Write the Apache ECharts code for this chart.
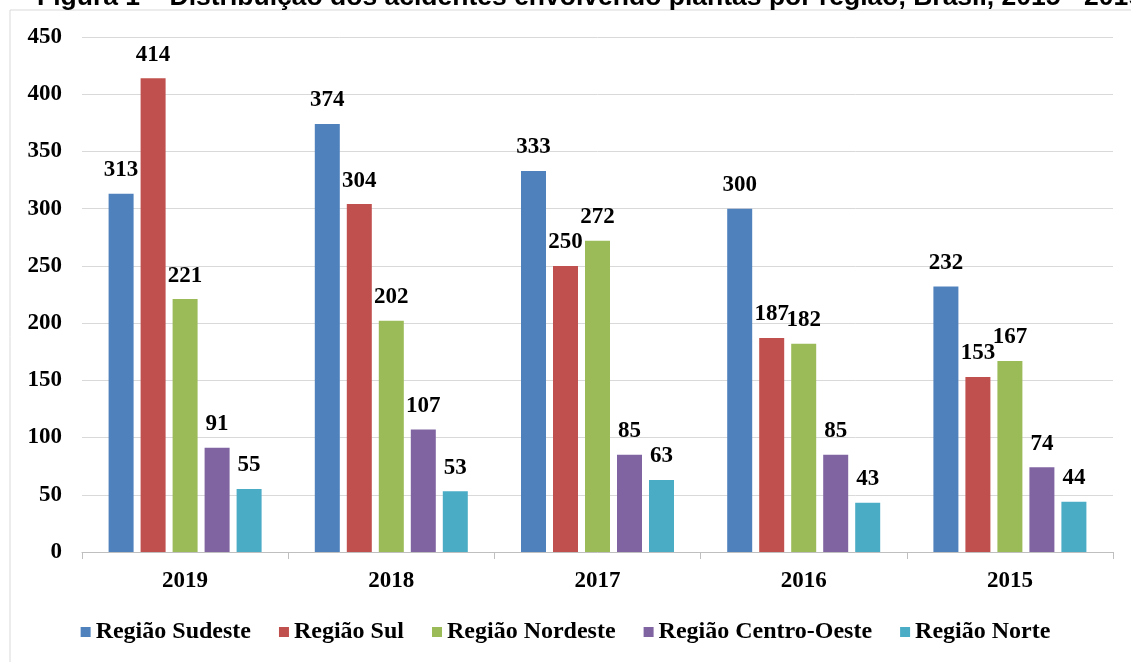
<!DOCTYPE html>
<html>
<head>
    <meta charset="utf-8">
    <title>Acidentes por região</title>
    <script src="https://cdn.jsdelivr.net/npm/echarts@6/dist/echarts.min.js"></script>
    <style>
        body { margin: 0; background: #fff; }
    </style>
</head>
<body>
    <div id="main" style="width: 1131px;height:662px;"></div>
    <script type="text/javascript">
        var years = ['2019', '2018', '2017', '2016', '2015'];
        var sudeste = [313, 374, 333, 300, 232];
        var sul = [414, 304, 250, 187, 153];
        var nordeste = [221, 202, 272, 182, 167];
        var centroOeste = [91, 107, 85, 85, 74];
        var norte = [55, 53, 63, 43, 44];

        var names = ['Região Sudeste', 'Região Sul', 'Região Nordeste', 'Região Centro-Oeste', 'Região Norte'];
        var colors = ['#4F81BD', '#C0504D', '#9BBB59', '#8064A2', '#4BACC6'];
        var allData = [sudeste, sul, nordeste, centroOeste, norte];

        var serif = 'Liberation Serif';

        var myChart = echarts.init(document.getElementById('main'));

        var series = allData.map(function (d, i) {
            return {
                name: names[i],
                type: 'bar',
                data: d,
                barWidth: 25,
                barGap: '28%',
                itemStyle: { color: colors[i] },
                label: {
                    show: true,
                    position: 'top',
                    distance: 12,
                    color: '#000',
                    fontFamily: serif,
                    fontWeight: 'bold',
                    fontSize: 23
                }
            };
        });

        myChart.setOption({
            animation: false,
            textStyle: { fontFamily: serif },
            graphic: [{
                type: 'rect',
                shape: { x: 10, y: 10, width: 1140, height: 680 },
                style: { fill: 'none', stroke: '#d9d9d9', lineWidth: 1 }
            }, {
                // title is clipped at the top edge in the source figure
                type: 'text',
                left: 37,
                top: -16,
                style: {
                    text: 'Figura 1 – Distribuição dos acidentes envolvendo plantas por região, Brasil, 2015 - 2019',
                    fontFamily: 'Liberation Sans',
                    fontWeight: 'bold',
                    fontSize: 26.5,
                    fill: '#000'
                }
            }],
            grid: {
                left: 82,
                right: 18,
                top: 37,
                bottom: 110
            },
            legend: {
                bottom: 13,
                left: 'center',
                itemWidth: 10,
                itemHeight: 10,
                itemGap: 28,
                icon: 'rect',
                textStyle: {
                    fontFamily: serif,
                    fontWeight: 'bold',
                    fontSize: 24,
                    color: '#000'
                },
                data: names
            },
            xAxis: {
                type: 'category',
                data: years,
                axisLine: { lineStyle: { color: '#bfbfbf' } },
                axisTick: { show: true, length: 7, lineStyle: { color: '#bfbfbf' } },
                axisLabel: {
                    margin: 18,
                    color: '#000',
                    fontFamily: serif,
                    fontWeight: 'bold',
                    fontSize: 23
                }
            },
            yAxis: {
                type: 'value',
                min: 0,
                max: 450,
                interval: 50,
                axisLine: { show: false },
                axisTick: { show: false },
                axisLabel: {
                    margin: 20,
                    color: '#000',
                    fontFamily: serif,
                    fontWeight: 'bold',
                    fontSize: 23
                },
                splitLine: { lineStyle: { color: '#d9d9d9' } }
            },
            series: series
        });
    </script>
</body>
</html>
